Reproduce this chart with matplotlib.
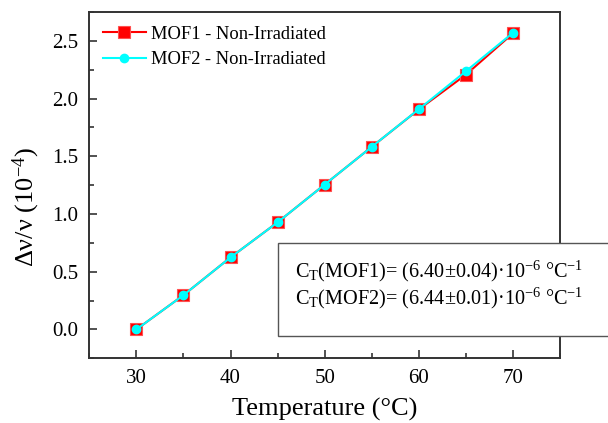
import matplotlib
matplotlib.use("Agg")
import matplotlib.pyplot as plt
from matplotlib.patches import Rectangle
from matplotlib.ticker import MultipleLocator

plt.rcParams['font.family'] = ['Liberation Serif', 'DejaVu Serif']
plt.rcParams['mathtext.fontset'] = 'custom'
plt.rcParams['mathtext.rm'] = 'Liberation Serif'
plt.rcParams['mathtext.it'] = 'Liberation Serif:italic'

temperature = [30, 35, 40, 45, 50, 55, 60, 65, 70]
mof1 = [0.0, 0.297, 0.624, 0.928, 1.255, 1.582, 1.906, 2.207, 2.565]
mof2 = [0.0, 0.297, 0.624, 0.928, 1.255, 1.582, 1.908, 2.237, 2.570]
labels = ['MOF1 - Non-Irradiated', 'MOF2 - Non-Irradiated']
box_lines = [r'C$_\mathregular{T}$(MOF1)= (6.40±0.04)·10$^\mathregular{-6}$ °C$^\mathregular{-1}$',
             r'C$_\mathregular{T}$(MOF2)= (6.44±0.01)·10$^\mathregular{-6}$ °C$^\mathregular{-1}$']

fig = plt.figure(figsize=(6.08, 4.23), dpi=100)
ax = fig.add_axes([0.1469, 0.153, 0.9211 - 0.1469, 0.9716 - 0.153])

ax.plot(temperature, mof1, color='red', lw=1.5, marker='s', markersize=9,
        markerfacecolor='red', markeredgecolor='#ff5050', markeredgewidth=0.8, label=labels[0])
ax.plot(temperature, mof2, color='cyan', lw=1.5, marker='o', markersize=6,
        markerfacecolor='cyan', markeredgecolor='cyan', label=labels[1])

ax.set_xlim(25, 75)
ax.set_ylim(-0.25, 2.75)
ax.xaxis.set_major_locator(MultipleLocator(10))
ax.xaxis.set_minor_locator(MultipleLocator(5))
ax.yaxis.set_major_locator(MultipleLocator(0.5))
ax.yaxis.set_minor_locator(MultipleLocator(0.25))
ax.tick_params(which='both', direction='in', top=False, right=False, width=1.2, color='#333333')
ax.tick_params(which='major', length=6, labelsize=15)
ax.tick_params(axis='x', which='major', pad=8)
ax.tick_params(axis='y', which='major', pad=8)
ax.tick_params(which='minor', length=3.5)
for s in ax.spines.values():
    s.set_linewidth(1.4)
    s.set_color('#333333')

ax.set_xlabel('Temperature (°C)', fontsize=19, labelpad=7)
ax.set_ylabel(r'Δν/ν (10$^\mathregular{-4}$)', fontsize=19)
ax.yaxis.set_label_coords(-0.10, 0.436)

leg = ax.legend(loc='upper left', frameon=False, fontsize=13.3, handlelength=2.3,
                borderaxespad=0.35, labelspacing=0.45, handletextpad=0.3,
                bbox_to_anchor=(0.0, 1.0))

rect = Rectangle((278 / 608, 1 - 336 / 423), 340 / 608, (336 - 243) / 423,
                 transform=fig.transFigure, facecolor='white', edgecolor='#555555',
                 lw=1.0, clip_on=False, zorder=5)
fig.add_artist(rect)
fig.text(295 / 608, 1 - 271 / 423, box_lines[0], fontsize=14.6, va='center', ha='left', zorder=6)
fig.text(295 / 608, 1 - 298 / 423, box_lines[1], fontsize=14.6, va='center', ha='left', zorder=6)

fig.savefig('out.png', dpi=100)
